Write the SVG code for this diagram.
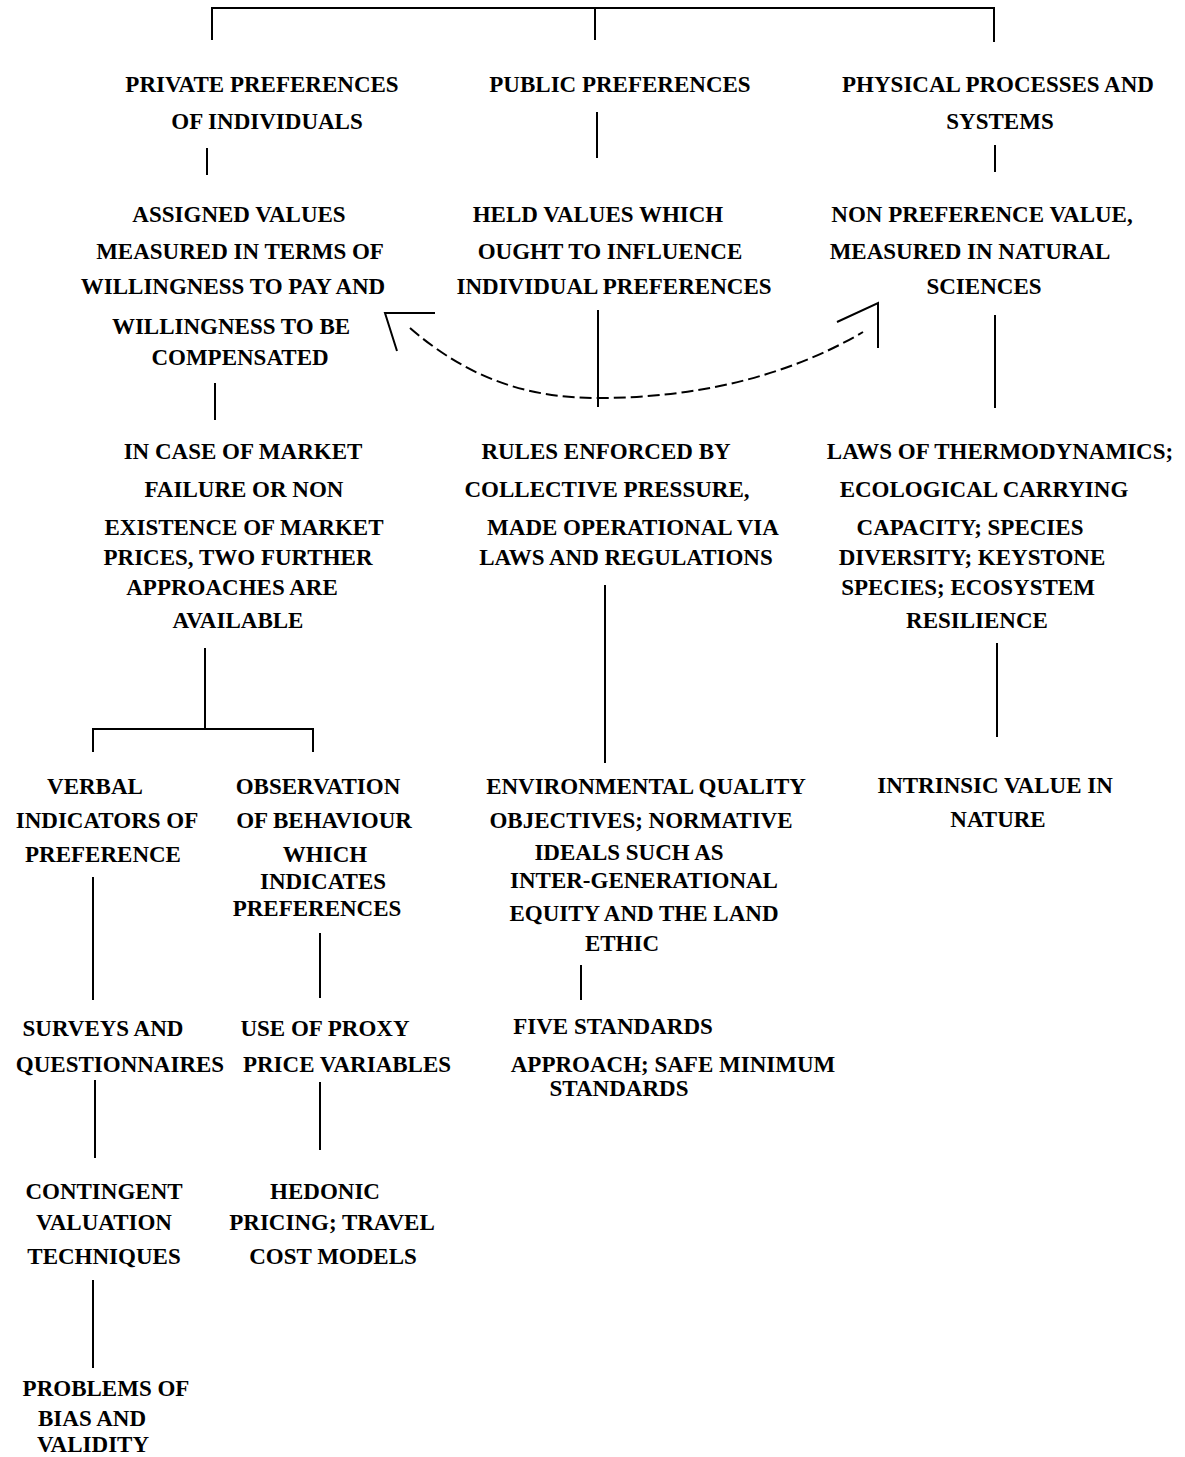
<svg xmlns="http://www.w3.org/2000/svg" width="1185" height="1457" viewBox="0 0 1185 1457">
<style>
text{font-family:"Liberation Serif","Times New Roman",serif;font-weight:bold;font-size:23px;fill:#000;text-anchor:middle}
.ln{stroke:#000;stroke-width:2;fill:none}
.ds{stroke:#000;stroke-width:2;fill:none;stroke-dasharray:12,5}
</style>
<rect width="1185" height="1457" fill="#fff"/>
<g id="connectors">
<path class="ln" d="M212,40 V8 H994 V42 M595,8 V40"/>
<path class="ln" d="M207,148 V175 M597,112 V158 M995,145 V172"/>
<path class="ln" d="M598,310 V407 M215,383 V420 M995,315 V408"/>
<path class="ds" d="M410,328 C470,380 530,398 598,398 C700,398 790,375 863,332"/>
<path class="ln" d="M435,313 H385 L397,351"/>
<path class="ln" d="M837,322 L878,303 V348"/>
<path class="ln" d="M205,648 V729 M93,752 V729 H313 V752"/>
<path class="ln" d="M605,585 V763 M997,643 V737"/>
<path class="ln" d="M93,877 V1000 M320,933 V998 M581,965 V1000"/>
<path class="ln" d="M95,1080 V1158 M320,1082 V1150"/>
<path class="ln" d="M93,1280 V1368"/>
</g>
<g id="n1"><text x="262" y="92">PRIVATE PREFERENCES</text><text x="267" y="129">OF INDIVIDUALS</text></g>
<g id="n2"><text x="620" y="92">PUBLIC PREFERENCES</text></g>
<g id="n3"><text x="998" y="92">PHYSICAL PROCESSES AND</text><text x="1000" y="129">SYSTEMS</text></g>
<g id="n4"><text x="239" y="222">ASSIGNED VALUES</text><text x="240" y="259">MEASURED IN TERMS OF</text><text x="233" y="294">WILLINGNESS TO PAY AND</text><text x="231" y="334">WILLINGNESS TO BE</text><text x="240" y="365">COMPENSATED</text></g>
<g id="n5"><text x="598" y="222">HELD VALUES WHICH</text><text x="610" y="259">OUGHT TO INFLUENCE</text><text x="614" y="294">INDIVIDUAL PREFERENCES</text></g>
<g id="n6"><text x="982" y="222">NON PREFERENCE VALUE,</text><text x="970" y="259">MEASURED IN NATURAL</text><text x="984" y="294">SCIENCES</text></g>
<g id="n7"><text x="243" y="459">IN CASE OF MARKET</text><text x="244" y="497">FAILURE OR NON</text><text x="244" y="535">EXISTENCE OF MARKET</text><text x="238" y="565">PRICES, TWO FURTHER</text><text x="232" y="595">APPROACHES ARE</text><text x="238" y="628">AVAILABLE</text></g>
<g id="n8"><text x="606" y="459">RULES ENFORCED BY</text><text x="607" y="497">COLLECTIVE PRESSURE,</text><text x="633" y="535">MADE OPERATIONAL VIA</text><text x="626" y="565">LAWS AND REGULATIONS</text></g>
<g id="n9"><text x="1000" y="459">LAWS OF THERMODYNAMICS;</text><text x="984" y="497">ECOLOGICAL CARRYING</text><text x="970" y="535">CAPACITY; SPECIES</text><text x="972" y="565">DIVERSITY; KEYSTONE</text><text x="968" y="595">SPECIES; ECOSYSTEM</text><text x="977" y="628">RESILIENCE</text></g>
<g id="n10"><text x="95" y="794">VERBAL</text><text x="107" y="828">INDICATORS OF</text><text x="103" y="862">PREFERENCE</text></g>
<g id="n11"><text x="318" y="794">OBSERVATION</text><text x="324" y="828">OF BEHAVIOUR</text><text x="325" y="862">WHICH</text><text x="323" y="889">INDICATES</text><text x="317" y="916">PREFERENCES</text></g>
<g id="n12"><text x="646" y="794">ENVIRONMENTAL QUALITY</text><text x="641" y="828">OBJECTIVES; NORMATIVE</text><text x="629" y="860">IDEALS SUCH AS</text><text x="644" y="888">INTER-GENERATIONAL</text><text x="644" y="921">EQUITY AND THE LAND</text><text x="622" y="951">ETHIC</text></g>
<g id="n13"><text x="995" y="793">INTRINSIC VALUE IN</text><text x="998" y="827">NATURE</text></g>
<g id="n14"><text x="103" y="1036">SURVEYS AND</text><text x="120" y="1072">QUESTIONNAIRES</text></g>
<g id="n15"><text x="325" y="1036">USE OF PROXY</text><text x="347" y="1072">PRICE VARIABLES</text></g>
<g id="n16"><text x="613" y="1034">FIVE STANDARDS</text><text x="673" y="1072">APPROACH; SAFE MINIMUM</text><text x="619" y="1096">STANDARDS</text></g>
<g id="n17"><text x="104" y="1199">CONTINGENT</text><text x="104" y="1230">VALUATION</text><text x="104" y="1264">TECHNIQUES</text></g>
<g id="n18"><text x="325" y="1199">HEDONIC</text><text x="332" y="1230">PRICING; TRAVEL</text><text x="333" y="1264">COST MODELS</text></g>
<g id="n19"><text x="106" y="1396">PROBLEMS OF</text><text x="92" y="1426">BIAS AND</text><text x="93" y="1452">VALIDITY</text></g>
</svg>
